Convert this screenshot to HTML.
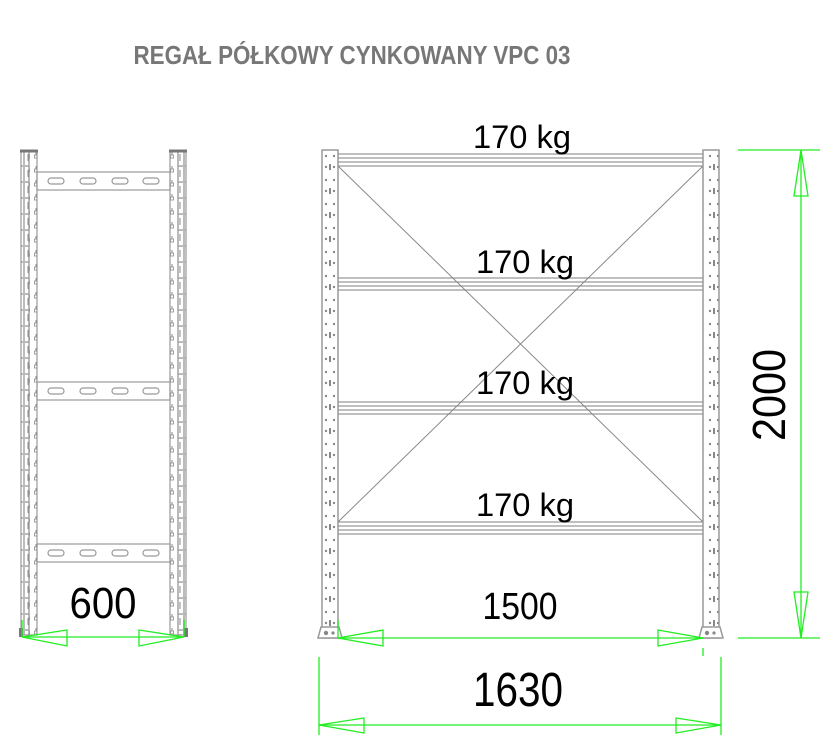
<!DOCTYPE html>
<html><head><meta charset="utf-8"><style>body{margin:0;background:#fff}svg{display:block}</style></head>
<body>
<svg width="837" height="742" viewBox="0 0 837 742" xmlns="http://www.w3.org/2000/svg">
<defs>
<pattern id="holesR" x="322" y="150" width="16" height="24" patternUnits="userSpaceOnUse">
<circle cx="4" cy="6" r="1.2" fill="#888"/><circle cx="12" cy="6" r="1.2" fill="#888"/>
<rect x="7" y="14" width="2" height="6" fill="#888"/><circle cx="4" cy="17" r="1.2" fill="#888"/><circle cx="12" cy="17" r="1.2" fill="#888"/>
</pattern>
<pattern id="holesL" x="0" y="150" width="8" height="16" patternUnits="userSpaceOnUse">
<rect x="0.5" y="0.5" width="7" height="15" fill="none" stroke="#aaa" stroke-width="0.8"/>
<rect x="3.5" y="4" width="1" height="7" fill="#888"/>
</pattern>
<pattern id="holesL2" x="0" y="150" width="8" height="14" patternUnits="userSpaceOnUse">
<rect x="2.5" y="5" width="3" height="3" fill="none" stroke="#888" stroke-width="0.8"/>
<rect x="3.5" y="2" width="1" height="3" fill="#888"/>
</pattern>
</defs>

<text x="352" y="64" text-anchor="middle" font-family="Liberation Sans, sans-serif" font-weight="bold" font-size="26" fill="#777" textLength="437" lengthAdjust="spacingAndGlyphs">REGAŁ PÓŁKOWY CYNKOWANY VPC 03</text>

<!-- Left side view -->
<g stroke="#999" stroke-width="1.2" fill="none">
<rect x="21" y="151" width="8" height="484" fill="url(#holesL)"/>
<rect x="29" y="151" width="8" height="484" fill="url(#holesL2)"/>
<rect x="170" y="151" width="8" height="484" fill="url(#holesL2)"/>
<rect x="178" y="151" width="8" height="484" fill="url(#holesL)"/>
<line x1="20" y1="151" x2="38" y2="151" stroke="#777" stroke-width="3"/>
<line x1="169" y1="151" x2="187" y2="151" stroke="#777" stroke-width="3"/>
<rect x="37" y="172" width="133" height="18"/>
<rect x="37" y="382" width="133" height="18"/>
<rect x="37" y="544" width="133" height="18"/>
</g>
<g stroke="#999" stroke-width="1.2" fill="none">
<rect x="48" y="178" width="16" height="6" rx="3"/><rect x="80" y="178" width="16" height="6" rx="3"/><rect x="112" y="178" width="16" height="6" rx="3"/><rect x="143" y="178" width="16" height="6" rx="3"/>
<rect x="48" y="388" width="16" height="6" rx="3"/><rect x="80" y="388" width="16" height="6" rx="3"/><rect x="112" y="388" width="16" height="6" rx="3"/><rect x="143" y="388" width="16" height="6" rx="3"/>
<rect x="48" y="550" width="16" height="6" rx="3"/><rect x="80" y="550" width="16" height="6" rx="3"/><rect x="112" y="550" width="16" height="6" rx="3"/><rect x="143" y="550" width="16" height="6" rx="3"/>
</g>
<rect x="19" y="628" width="4" height="9" fill="#777"/><rect x="184" y="628" width="4" height="9" fill="#777"/>

<!-- Front view -->
<g stroke="#999" stroke-width="1.5">
<rect x="322" y="150" width="16" height="488" fill="url(#holesR)"/>
<rect x="703" y="150" width="16" height="488" fill="url(#holesR)"/>
<path d="M318 638 L342 638 L339 627 L321 627 Z" fill="#fff"/>
<path d="M699 638 L723 638 L720 627 L702 627 Z" fill="#fff"/>
</g>
<circle cx="326" cy="633" r="2.2" fill="#888"/><circle cx="333" cy="633" r="1.6" fill="#888"/>
<circle cx="707" cy="633" r="2.2" fill="#888"/><circle cx="714" cy="633" r="1.6" fill="#888"/>
<g stroke="#999" stroke-width="1.3">
<line x1="338" y1="154" x2="703" y2="154"/><line x1="338" y1="158" x2="703" y2="158"/><line x1="338" y1="162" x2="703" y2="162"/><line x1="338" y1="166" x2="703" y2="166"/>
<line x1="338" y1="278" x2="703" y2="278"/><line x1="338" y1="282" x2="703" y2="282"/><line x1="338" y1="286" x2="703" y2="286"/><line x1="338" y1="290" x2="703" y2="290"/>
<line x1="338" y1="402" x2="703" y2="402"/><line x1="338" y1="406" x2="703" y2="406"/><line x1="338" y1="410" x2="703" y2="410"/><line x1="338" y1="414" x2="703" y2="414"/>
<line x1="338" y1="522" x2="703" y2="522"/><line x1="338" y1="526" x2="703" y2="526"/><line x1="338" y1="530" x2="703" y2="530"/><line x1="338" y1="534" x2="703" y2="534"/>
</g>
<g stroke="#888" stroke-width="1">
<line x1="338" y1="166" x2="703" y2="522"/><line x1="703" y1="166" x2="338" y2="522"/>
</g>

<g font-family="Liberation Sans, sans-serif" fill="#000" text-anchor="middle">
<text x="522" y="148" font-size="32" textLength="98" lengthAdjust="spacingAndGlyphs">170 kg</text>
<text x="525" y="273" font-size="32" textLength="98" lengthAdjust="spacingAndGlyphs">170 kg</text>
<text x="525" y="394" font-size="32" textLength="98" lengthAdjust="spacingAndGlyphs">170 kg</text>
<text x="525" y="516" font-size="32" textLength="98" lengthAdjust="spacingAndGlyphs">170 kg</text>
<text x="520" y="619" font-size="38" textLength="75" lengthAdjust="spacingAndGlyphs">1500</text>
<text x="518" y="706" font-size="48" textLength="90" lengthAdjust="spacingAndGlyphs">1630</text>
<text x="103" y="618" font-size="44" textLength="67" lengthAdjust="spacingAndGlyphs">600</text>
<text x="0" y="0" font-size="46" textLength="92" lengthAdjust="spacingAndGlyphs" transform="translate(785,395) rotate(-90)">2000</text>
</g>

<!-- dimensions -->
<g stroke="#2e2" stroke-width="1.3" fill="none">
<line x1="738" y1="150" x2="820" y2="150"/><line x1="738" y1="638" x2="820" y2="638"/>
<line x1="801" y1="150" x2="801" y2="638"/>
<path d="M801 150 L794 196 L808 196 Z"/><path d="M801 638 L794 592 L808 592 Z"/>
<line x1="338" y1="620" x2="338" y2="638"/>
<line x1="338" y1="638" x2="703" y2="638"/>
<path d="M338 638 L383 630 L383 646 Z"/><path d="M703 638 L658 630 L658 646 Z"/>
<line x1="703" y1="648" x2="703" y2="656"/>
<line x1="319" y1="657" x2="319" y2="735"/><line x1="721" y1="657" x2="721" y2="735"/>
<line x1="319" y1="725" x2="721" y2="725"/>
<path d="M319 725 L364 718 L364 733 Z"/><path d="M721 725 L676 718 L676 733 Z"/>
<line x1="22" y1="620" x2="22" y2="637"/><line x1="184" y1="620" x2="184" y2="637"/>
<line x1="22" y1="637" x2="184" y2="637"/>
<path d="M22 637 L67 630 L67 646 Z"/><path d="M184 637 L139 630 L139 646 Z"/>
</g>
</svg>
</body></html>
